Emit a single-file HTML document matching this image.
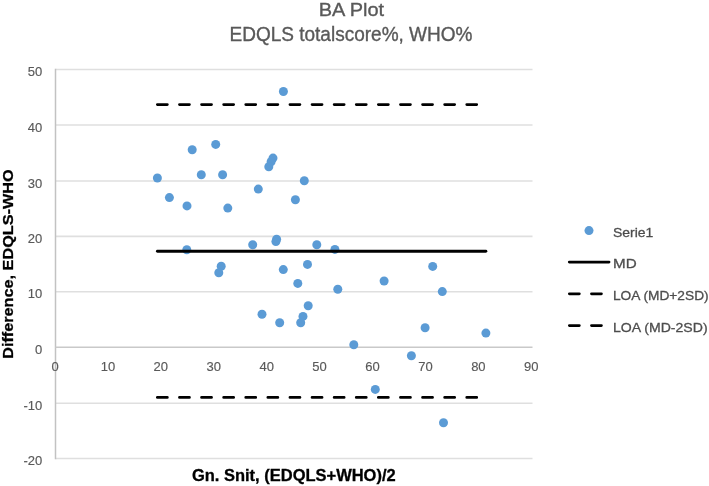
<!DOCTYPE html><html><head><meta charset="utf-8"><style>html,body{margin:0;padding:0;background:#fff;}svg{display:block;will-change:transform;}text{font-family:"Liberation Sans",sans-serif;}text.t{stroke:#595959;stroke-width:0.35px;}text.k{stroke:#595959;stroke-width:0.15px;}text.l{stroke:#4D4D4D;stroke-width:0.3px;}text.b{stroke:#000;stroke-width:0.3px;}</style></head><body>
<svg width="709" height="486" viewBox="0 0 709 486">
<rect width="709" height="486" fill="#fff"/>
<line x1="55.5" y1="69.55" x2="532.5" y2="69.55" stroke="#DFDFDF" stroke-width="1.6"/>
<line x1="55.5" y1="125.00" x2="532.5" y2="125.00" stroke="#DFDFDF" stroke-width="1.6"/>
<line x1="55.5" y1="181.06" x2="532.5" y2="181.06" stroke="#DFDFDF" stroke-width="1.6"/>
<line x1="55.5" y1="236.40" x2="532.5" y2="236.40" stroke="#DFDFDF" stroke-width="1.6"/>
<line x1="55.5" y1="291.80" x2="532.5" y2="291.80" stroke="#DFDFDF" stroke-width="1.6"/>
<line x1="55.5" y1="403.20" x2="532.5" y2="403.20" stroke="#DFDFDF" stroke-width="1.6"/>
<line x1="55.5" y1="458.55" x2="532.5" y2="458.55" stroke="#DFDFDF" stroke-width="1.6"/>
<line x1="55.5" y1="68.8" x2="55.5" y2="459.3" stroke="#C2C2C2" stroke-width="1.5"/>
<line x1="55.5" y1="347.35" x2="532.5" y2="347.35" stroke="#C9C9C9" stroke-width="1.5"/>
<text x="42.2" y="76.15" font-size="13" fill="#595959" class="k" text-anchor="end">50</text>
<text x="42.2" y="131.60" font-size="13" fill="#595959" class="k" text-anchor="end">40</text>
<text x="42.2" y="187.66" font-size="13" fill="#595959" class="k" text-anchor="end">30</text>
<text x="42.2" y="243.00" font-size="13" fill="#595959" class="k" text-anchor="end">20</text>
<text x="42.2" y="298.40" font-size="13" fill="#595959" class="k" text-anchor="end">10</text>
<text x="42.2" y="353.95" font-size="13" fill="#595959" class="k" text-anchor="end">0</text>
<text x="42.2" y="409.80" font-size="13" fill="#595959" class="k" text-anchor="end">-10</text>
<text x="42.2" y="465.15" font-size="13" fill="#595959" class="k" text-anchor="end">-20</text>
<text x="55.00" y="371.0" font-size="13" fill="#595959" class="k" text-anchor="middle">0</text>
<text x="107.92" y="371.0" font-size="13" fill="#595959" class="k" text-anchor="middle">10</text>
<text x="160.84" y="371.0" font-size="13" fill="#595959" class="k" text-anchor="middle">20</text>
<text x="213.76" y="371.0" font-size="13" fill="#595959" class="k" text-anchor="middle">30</text>
<text x="266.68" y="371.0" font-size="13" fill="#595959" class="k" text-anchor="middle">40</text>
<text x="319.60" y="371.0" font-size="13" fill="#595959" class="k" text-anchor="middle">50</text>
<text x="372.52" y="371.0" font-size="13" fill="#595959" class="k" text-anchor="middle">60</text>
<text x="425.44" y="371.0" font-size="13" fill="#595959" class="k" text-anchor="middle">70</text>
<text x="478.36" y="371.0" font-size="13" fill="#595959" class="k" text-anchor="middle">80</text>
<text x="531.28" y="371.0" font-size="13" fill="#595959" class="k" text-anchor="middle">90</text>
<circle cx="157.4" cy="178.0" r="4.5" fill="#5B9BD5"/>
<circle cx="192.2" cy="149.8" r="4.5" fill="#5B9BD5"/>
<circle cx="215.7" cy="144.4" r="4.5" fill="#5B9BD5"/>
<circle cx="201.3" cy="174.8" r="4.5" fill="#5B9BD5"/>
<circle cx="222.6" cy="174.8" r="4.5" fill="#5B9BD5"/>
<circle cx="169.4" cy="197.6" r="4.5" fill="#5B9BD5"/>
<circle cx="187.0" cy="205.9" r="4.5" fill="#5B9BD5"/>
<circle cx="227.8" cy="208.1" r="4.5" fill="#5B9BD5"/>
<circle cx="186.8" cy="249.8" r="4.5" fill="#5B9BD5"/>
<circle cx="252.7" cy="244.7" r="4.5" fill="#5B9BD5"/>
<circle cx="221.2" cy="266.3" r="4.5" fill="#5B9BD5"/>
<circle cx="218.8" cy="272.7" r="4.5" fill="#5B9BD5"/>
<circle cx="262.0" cy="314.2" r="4.5" fill="#5B9BD5"/>
<circle cx="273.0" cy="158.1" r="4.5" fill="#5B9BD5"/>
<circle cx="271.1" cy="161.7" r="4.5" fill="#5B9BD5"/>
<circle cx="268.8" cy="166.8" r="4.5" fill="#5B9BD5"/>
<circle cx="258.3" cy="189.1" r="4.5" fill="#5B9BD5"/>
<circle cx="304.3" cy="180.7" r="4.5" fill="#5B9BD5"/>
<circle cx="295.4" cy="199.8" r="4.5" fill="#5B9BD5"/>
<circle cx="276.6" cy="239.3" r="4.5" fill="#5B9BD5"/>
<circle cx="275.9" cy="241.6" r="4.5" fill="#5B9BD5"/>
<circle cx="316.8" cy="244.7" r="4.5" fill="#5B9BD5"/>
<circle cx="334.9" cy="249.4" r="4.5" fill="#5B9BD5"/>
<circle cx="283.3" cy="269.6" r="4.5" fill="#5B9BD5"/>
<circle cx="307.5" cy="264.4" r="4.5" fill="#5B9BD5"/>
<circle cx="297.8" cy="283.4" r="4.5" fill="#5B9BD5"/>
<circle cx="337.8" cy="289.3" r="4.5" fill="#5B9BD5"/>
<circle cx="308.2" cy="305.8" r="4.5" fill="#5B9BD5"/>
<circle cx="303.0" cy="316.4" r="4.5" fill="#5B9BD5"/>
<circle cx="300.7" cy="322.7" r="4.5" fill="#5B9BD5"/>
<circle cx="279.7" cy="322.7" r="4.5" fill="#5B9BD5"/>
<circle cx="283.4" cy="91.5" r="4.5" fill="#5B9BD5"/>
<circle cx="384.1" cy="281.0" r="4.5" fill="#5B9BD5"/>
<circle cx="432.7" cy="266.4" r="4.5" fill="#5B9BD5"/>
<circle cx="442.3" cy="291.6" r="4.5" fill="#5B9BD5"/>
<circle cx="425.1" cy="327.8" r="4.5" fill="#5B9BD5"/>
<circle cx="353.8" cy="344.7" r="4.5" fill="#5B9BD5"/>
<circle cx="411.4" cy="355.8" r="4.5" fill="#5B9BD5"/>
<circle cx="485.9" cy="333.1" r="4.5" fill="#5B9BD5"/>
<circle cx="375.3" cy="389.4" r="4.5" fill="#5B9BD5"/>
<circle cx="443.5" cy="422.7" r="4.5" fill="#5B9BD5"/>
<line x1="157.4" y1="251.2" x2="485.9" y2="251.2" stroke="#000" stroke-width="2.85" stroke-linecap="round"/>
<line x1="157.4" y1="104.6" x2="485.9" y2="104.6" stroke="#000" stroke-width="2.85" stroke-linecap="round" stroke-dasharray="9.9 12.2"/>
<line x1="157.4" y1="397.4" x2="485.9" y2="397.4" stroke="#000" stroke-width="2.85" stroke-linecap="round" stroke-dasharray="9.9 12.2"/>
<text x="351.4" y="15.6" font-size="19" fill="#595959" class="t" text-anchor="middle" textLength="65.5" lengthAdjust="spacingAndGlyphs">BA Plot</text>
<text x="351" y="40.6" font-size="19.3" fill="#595959" class="t" text-anchor="middle" textLength="243" lengthAdjust="spacingAndGlyphs">EDQLS totalscore%, WHO%</text>
<text transform="translate(13.4,264.1) rotate(-90)" font-size="15.5" font-weight="bold" fill="#000" class="b" text-anchor="middle" textLength="189.5" lengthAdjust="spacingAndGlyphs">Difference, EDQLS-WHO</text>
<text x="293.8" y="480.6" font-size="15.7" font-weight="bold" fill="#000" class="b" text-anchor="middle" textLength="203.8" lengthAdjust="spacingAndGlyphs">Gn. Snit, (EDQLS+WHO)/2</text>
<circle cx="589" cy="230.6" r="4.5" fill="#5B9BD5"/>
<text x="613" y="236.6" font-size="13.5" fill="#4D4D4D" class="l" textLength="40.3" lengthAdjust="spacingAndGlyphs">Serie1</text>
<line x1="569.3" y1="262.1" x2="609" y2="262.1" stroke="#000" stroke-width="2.85" stroke-linecap="round"/>
<text x="613" y="268.3" font-size="13.5" fill="#4D4D4D" class="l" textLength="23.6" lengthAdjust="spacingAndGlyphs">MD</text>
<line x1="569.4" y1="293.8" x2="609" y2="293.8" stroke="#000" stroke-width="2.85" stroke-linecap="round" stroke-dasharray="9.9 12.2"/>
<text x="613" y="300.1" font-size="13.5" fill="#4D4D4D" class="l" textLength="95.6" lengthAdjust="spacingAndGlyphs">LOA (MD+2SD)</text>
<line x1="569.4" y1="325.6" x2="609" y2="325.6" stroke="#000" stroke-width="2.85" stroke-linecap="round" stroke-dasharray="9.9 12.2"/>
<text x="613" y="332.2" font-size="13.5" fill="#4D4D4D" class="l" textLength="94.6" lengthAdjust="spacingAndGlyphs">LOA (MD-2SD)</text>
</svg></body></html>
